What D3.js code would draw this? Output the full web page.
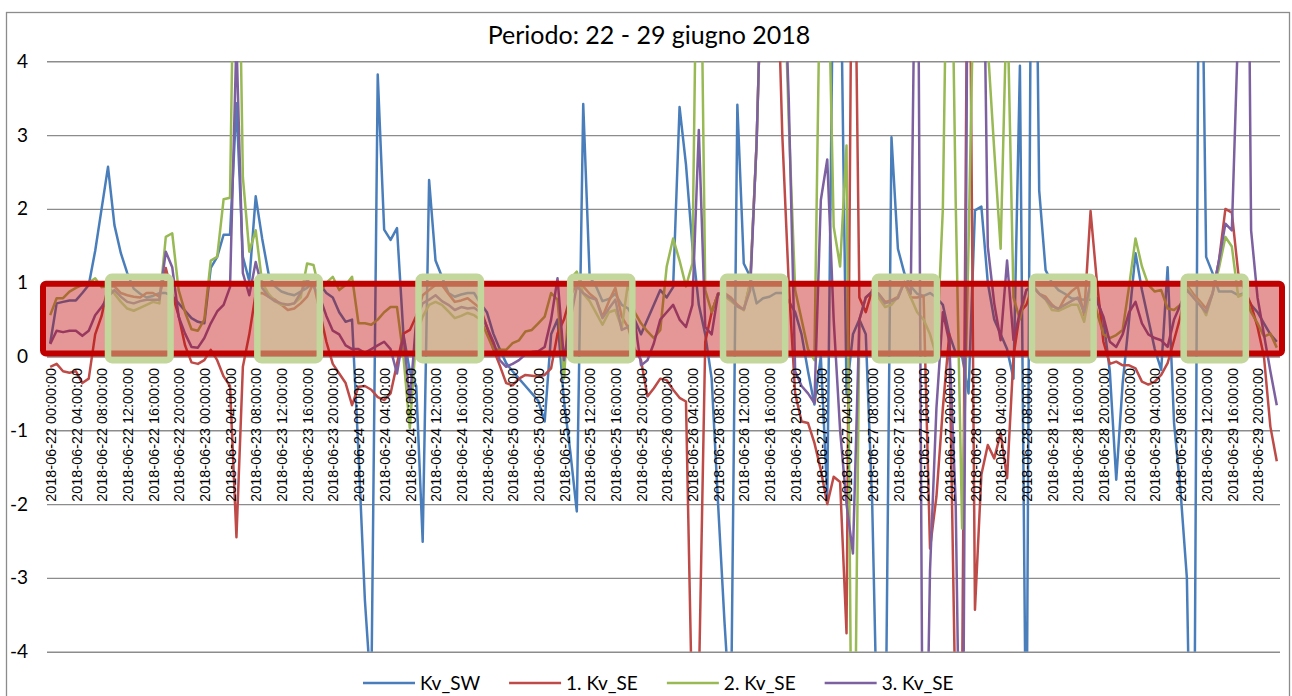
<!DOCTYPE html>
<html lang="it">
<head>
<meta charset="UTF-8">
<title>Periodo: 22 - 29 giugno 2018</title>
<script src="https://d3js.org/d3.v7.min.js"></script>
<style>
  body { margin: 0; background: #fff; }
  svg { display: block; }
  .title { font-family: Lato, "Open Sans", sans-serif; font-size: 25px; fill: #000; }
  .ylab text { font-family: Lato, "Open Sans", sans-serif; font-size: 19px; fill: #000; }
  .xlab text { font-family: "Liberation Sans", Arial, sans-serif; font-size: 14.4px; fill: #000; }
  .legend text { font-family: Lato, "Open Sans", sans-serif; font-size: 19px; fill: #000; }
</style>
</head>
<body>
<svg id="chart" width="1292" height="696"></svg>
<script>
// categories: one per hour, 22-29 June 2018
const title = "Periodo: 22 - 29 giugno 2018";
const hours = d3.timeHour.range(new Date(2018, 5, 22, 0), new Date(2018, 5, 30, 0));
const labelEvery = 4;
const yTicks = [-4, -3, -2, -1, 0, 1, 2, 3, 4];

const seriesNames = ["Kv_SW", "1. Kv_SE", "2. Kv_SE", "3. Kv_SE"];
const seriesColors = ["#4A7EBB", "#BE4B48", "#98B954", "#7D60A0"];

// values, one per hour (beyond +-4 is cut by the plot area)
const kvSW = [
  0.18, 0.72, 0.74, 0.76, 0.76, 0.86, 0.97, 1.43, 2.0, 2.57, 1.78, 1.4, 1.13, 0.92, 0.85, 0.8, 0.82, 0.86, 0.86, 0.82, 0.72, 0.62, 0.52, 0.47,
  0.45, 1.2, 1.35, 1.65, 1.65, 3.43, 1.35, 1.02, 2.17, 1.6, 1.12, 0.95, 0.88, 0.85, 0.83, 0.88, 0.93, 1.0, 0.98, 0.86, 0.8, 0.6, 0.47, 0.5,
  -1.3, -3.3, -4.6, 3.82, 1.72, 1.58, 1.74, 0.3, -0.2, -0.4, -2.51, 2.39, 1.3, 1.08, 0.86, 0.81, 0.84, 0.86, 0.86, 0.72, 0.6, 0.31, 0.1, -0.09,
  -0.2, -0.3, -0.4, -0.5, -0.6, -0.88, 0.3, 0.5, -0.6, -1.3, -2.1, 3.42, 1.08, 0.95, 0.75, 0.78, 0.85, 0.7, 0.65, 0.5, 0.3, 0.5, 0.7, 0.9,
  0.8, 0.94, 3.38, 2.6, 1.5, 0.7, 0.3, -0.3, -2.0, -3.6, -5, 3.41, 1.26, 1.08, 0.72, 0.79, 0.81, 0.86, 0.86, 0.75, 0.6, 0.3, -0.2, -0.65,
  0.0, -1.9, 6, 6, -0.5, 0.3, 0.5, 0.3, -2.0, -6, -6, 2.97, 1.46, 1.13, 0.95, 0.85, 0.82, 0.86, 0.8, 0.7, 0.3, 0.05, 0.0, -0.5,
  1.98, 2.03, 1.0, 0.5, 0.3, 0.1, -0.3, 3.94, -6, 10, 2.25, 1.17, 1.0, 0.9, 0.85, 0.79, 0.78, 0.77, 0.77, 0.79, 0.5, -0.2, -1.67, -0.36,
  0.5, 1.4, 0.9, 0.5, 0.1, -0.18, 1.21, -0.9, -1.81, -3.0, -8, 8, 1.35, 1.13, 0.88, 0.88, 0.88, 0.83, 0.86, 0.7, 0.6, 0.45, 0.3, 0.2
];
const kvSE1 = [
  -0.14, -0.1, -0.2, -0.22, -0.2, -0.36, -0.3, 0.3, 0.55, 0.95, 0.95, 0.86, 0.83, 0.81, 0.8, 0.86, 0.86, 0.81, 1.2, 0.85, 0.55, 0.15, -0.08, -0.1,
  -0.05, 0.09, -0.05, -0.27, -0.4, -2.45, -0.14, 0.3, 0.85, 0.86, 0.81, 0.77, 0.7, 0.63, 0.65, 0.72, 0.81, 1.0, 0.6, 0.2, -0.1, -0.23, -0.36, -0.66,
  -0.41, -0.4, -0.45, -0.55, -0.59, -0.5, -0.1, 0.31, 0.36, 0.55, 0.83, 0.9, 0.97, 0.97, 0.85, 0.74, 0.76, 0.79, 0.72, 0.65, 0.4, 0.1, -0.12, -0.36,
  -0.39, -0.3, -0.25, -0.26, -0.27, -0.25, -0.16, 0.31, 0.5, 0.81, 1.0, 0.95, 0.85, 0.78, 0.54, 0.75, 0.93, 0.54, 0.39, 0.1, -0.05, -0.54, -0.43, -0.3,
  -0.32, -0.45, -0.56, -0.61, -5, -4.5, 0.2, 0.6, 0.85, 0.86, 0.8, 0.7, 0.63, 1.0, 2.9, 6, 6, 6, 3.0, 1.0, -0.5, -0.88, -0.9, -1.17,
  -1.54, -2.0, -1.63, -1.7, -3.75, 8, 0.8, 0.6, 0.9, 0.85, 0.74, 0.76, 0.81, 1.01, 0.8, 0.8, 0.82, -2.6, -1.9, -0.7, 0.3, -5, -4.5, 8,
  -3.43, -1.6, -1.2, -1.38, -1.04, -1.65, 0.0, 0.6, 0.7, 0.95, 0.85, 0.81, 0.7, 0.63, 0.79, 0.88, 0.95, 0.56, 1.97, 1.0, 0.2, -0.1, -0.07, -0.12,
  -0.12, -0.16, -0.34, -0.38, -0.34, -0.25, -0.09, 0.22, 0.54, 0.97, 0.85, 0.75, 0.65, 0.86, 1.3, 2.0, 1.95, 1.13, 0.9, 0.7, 0.4, 0.0, -0.95, -1.42
];
const kvSE2 = [
  0.56, 0.79, 0.79, 0.88, 0.93, 0.97, 1.0, 1.06, 0.94, 0.95, 0.85, 0.74, 0.65, 0.62, 0.66, 0.7, 0.74, 0.72, 1.62, 1.67, 0.9, 0.6, 0.37, 0.35,
  0.5, 1.3, 1.35, 2.13, 2.15, 8, 2.43, 1.42, 1.71, 1.0, 0.85, 0.75, 0.7, 0.7, 0.72, 0.8, 1.26, 1.24, 0.86, 1.0, 1.08, 0.9, 0.97, 1.08,
  0.45, 0.45, 0.43, 0.5, 0.6, 0.67, 0.67, 0.0, -0.97, 0.3, 0.54, 0.7, 0.74, 0.7, 0.61, 0.52, 0.55, 0.59, 0.56, 0.5, 0.3, 0.1, 0.09, 0.09,
  0.18, 0.22, 0.34, 0.36, 0.45, 0.54, 0.86, 0.77, -0.3, 1.05, 1.15, 0.85, 0.75, 0.59, 0.43, 0.6, 0.63, 0.39, 1.01, 0.6, 0.45, 0.34, 0.25, 0.36,
  1.22, 1.6, 1.3, 0.95, 1.26, 8, 0.9, 0.6, 0.85, 0.82, 0.75, 0.68, 0.63, 1.0, 2.9, 6, 6, 6, 6, 3.2, 0.9, 0.5, 0.1, -0.05,
  6, 6, 1.76, 1.22, 2.86, -8, 0.5, 0.8, 0.88, 0.8, 0.67, 0.7, 0.81, 1.01, 0.8, 0.6, 0.5, 0.3, 0.0, 2.0, 8, 2.1, -2.33, 1.5,
  6, 6, 4.2, 2.8, 1.46, 5, 0.8, 0.5, 0.9, 0.97, 0.85, 0.77, 0.63, 0.62, 0.66, 0.7, 0.7, 0.47, 0.95, 0.6, 0.3, 0.25, 0.29, 0.36,
  0.95, 1.6, 1.22, 0.97, 0.88, 0.9, 0.65, 0.63, 0.7, 0.95, 0.8, 0.72, 0.56, 0.86, 1.2, 1.62, 1.49, 0.81, 0.85, 0.6, 0.45, 0.27, 0.31, 0.12
];
const kvSE3 = [
  0.17, 0.35, 0.33, 0.35, 0.35, 0.28, 0.35, 0.56, 0.67, 0.81, 0.9, 0.81, 0.74, 0.72, 0.75, 0.77, 0.77, 0.77, 1.42, 1.21, 0.54, 0.31, 0.13, 0.12,
  0.25, 0.45, 0.61, 0.7, 0.94, 4.3, 1.13, 0.83, 1.28, 0.93, 0.81, 0.75, 0.72, 0.7, 0.72, 0.86, 1.04, 0.95, 0.8, 0.55, 0.35, 0.3, 0.15, 0.1,
  0.1, 0.05, 0.1, 0.15, 0.2, 0.1, -0.23, 0.3, -0.6, 0.5, 0.72, 0.77, 0.83, 0.75, 0.7, 0.63, 0.67, 0.65, 0.66, 0.6, 0.4, 0.2, -0.05, -0.14,
  -0.1, -0.05, 0.03, 0.06, 0.07, 0.13, 0.5, 1.06, -0.05, 0.5, 0.95, 0.86, 0.8, 0.77, 0.52, 0.65, 0.77, 0.36, 0.4, 0.5, -0.12, -0.05, 0.18, 0.5,
  0.6, 0.7, 0.5, 0.4, 0.7, 3.07, 0.4, 0.3, 0.85, 0.84, 0.78, 0.68, 0.64, 0.9, 2.9, 6, 6, 6, 6, 3.5, -0.2, -0.4, -0.5, -0.63,
  2.12, 2.67, 0.5, -1.0, -2.0, -2.67, 0.5, 0.8, 0.88, 0.85, 0.72, 0.75, 0.79, 1.01, 0.85, 8, -8, -2.9, -0.7, 0.6, 0.2, -2.0, -8, 8,
  8, 8, 1.49, 0.72, 0.22, 1.3, 0.22, 0.6, 0.9, 0.95, 0.85, 0.78, 0.68, 0.65, 0.7, 0.75, 0.8, 0.6, 1.0, 0.75, 0.54, 0.2, 0.13, 0.3,
  0.6, 0.74, 0.45, 0.3, 0.25, 0.22, 0.13, 0.5, 0.7, 0.9, 0.8, 0.7, 0.6, 0.85, 1.3, 1.8, 1.71, 4.5, 12, 1.71, 0.8, 0.3, -0.2, -0.66
];
const allSeries = [kvSW, kvSE1, kvSE2, kvSE3];

// red target band and the green daytime windows (window edges in hours from the first category)
const bandLow = 0.04, bandHigh = 0.985;
const windowStart = [9.0, 32.25, 57.35, 80.97, 104.77, 128.4, 152.88, 176.5];
const windowEnd   = [18.74, 41.98, 67.07, 90.65, 114.45, 138.08, 162.48, 186.18];
const windowLow = -0.05, windowHigh = 1.08;

const svg = d3.select("#chart");
const plot = { left: 47, right: 1280, top: 61.3, bottom: 651.7 };

// outer chart border
svg.append("rect")
    .attr("x", 6.5).attr("y", 12.5)
    .attr("width", 1283).attr("height", 700)
    .attr("fill", "none")
    .attr("stroke", "#8c8c8c")
    .attr("stroke-width", 1.3);

const x = d3.scalePoint()
    .domain(d3.range(hours.length))
    .range([plot.left, plot.right])
    .padding(0.5);
const xPos = d3.scaleLinear()
    .domain([0, hours.length - 1])
    .range([x(0), x(hours.length - 1)]);
const y = d3.scaleLinear().domain([-4, 4]).range([plot.bottom, plot.top]);

// gridlines
svg.append("g")
    .attr("transform", `translate(${plot.left},0)`)
    .call(d3.axisLeft(y).tickValues(yTicks).tickSize(-(plot.right - plot.left)).tickFormat(""))
    .call(g => g.select(".domain").remove())
    .call(g => g.selectAll("line").attr("stroke", "#8c8c8c").attr("stroke-width", 1.4));

// y labels (plain hyphen for negatives, as in the original)
svg.append("g")
    .attr("class", "ylab")
    .attr("transform", `translate(${plot.left},0)`)
    .call(d3.axisLeft(y).tickValues(yTicks).tickSize(0).tickPadding(19).tickFormat(d => String(d)))
    .call(g => g.select(".domain").remove())
    .call(g => g.attr("font-family", null).attr("font-size", null));

// the series, clipped at the plot area like the original
svg.append("clipPath").attr("id", "plot-clip")
    .append("rect")
    .attr("x", 0).attr("y", plot.top)
    .attr("width", 1292).attr("height", plot.bottom - plot.top);

const line = d3.line()
    .x((d, i) => x(i))
    .y(d => y(d));

svg.append("g")
    .attr("clip-path", "url(#plot-clip)")
    .selectAll("path")
    .data(allSeries)
    .join("path")
    .attr("fill", "none")
    .attr("stroke", (d, i) => seriesColors[i])
    .attr("stroke-width", 2.5)
    .attr("stroke-linejoin", "round")
    .attr("d", line);

// category labels, vertical, hanging under the zero line
svg.append("g")
    .attr("class", "xlab")
    .attr("transform", `translate(0,${y(0)})`)
    .call(d3.axisBottom(x)
        .tickValues(d3.range(0, hours.length, labelEvery))
        .tickSize(0)
        .tickFormat(i => d3.timeFormat("%Y-%m-%d %H:%M:%S")(hours[i])))
    .call(g => g.select(".domain").remove())
    .call(g => g.attr("font-family", null).attr("font-size", null))
    .call(g => g.selectAll("text")
        .attr("transform", "rotate(-90)")
        .attr("text-anchor", "end")
        .attr("x", -11.5)
        .attr("y", 0)
        .attr("dy", "0.36em"));

// red band 0..1
svg.append("rect")
    .attr("x", plot.left - 4)
    .attr("y", y(bandHigh))
    .attr("width", plot.right + 2 - (plot.left - 4))
    .attr("height", y(bandLow) - y(bandHigh))
    .attr("rx", 3)
    .attr("fill", "#C00000")
    .attr("fill-opacity", 0.41)
    .attr("stroke", "#C00000")
    .attr("stroke-width", 6);

// green daytime windows
svg.append("g")
    .selectAll("rect")
    .data(windowStart)
    .join("rect")
    .attr("x", d => xPos(d))
    .attr("y", y(windowHigh))
    .attr("width", (d, i) => xPos(windowEnd[i]) - xPos(d))
    .attr("height", y(windowLow) - y(windowHigh))
    .attr("rx", 4)
    .attr("fill", "#C3D69B")
    .attr("fill-opacity", 0.5)
    .attr("stroke", "#C3D69B")
    .attr("stroke-width", 6.5);

// title
svg.append("text")
    .attr("class", "title")
    .attr("x", 649)
    .attr("y", 44)
    .attr("text-anchor", "middle")
    .text(title);

// legend
const legend = svg.append("g").attr("class", "legend");
let lx = 363;
seriesNames.forEach((name, i) => {
    legend.append("line")
        .attr("x1", lx).attr("x2", lx + 52)
        .attr("y1", 683).attr("y2", 683)
        .attr("stroke", seriesColors[i])
        .attr("stroke-width", 2.6);
    const t = legend.append("text")
        .attr("x", lx + 57)
        .attr("y", 683)
        .attr("dy", "0.35em")
        .text(name);
    lx += 57 + t.node().getComputedTextLength() + 29;
});
</script>
</body>
</html>
